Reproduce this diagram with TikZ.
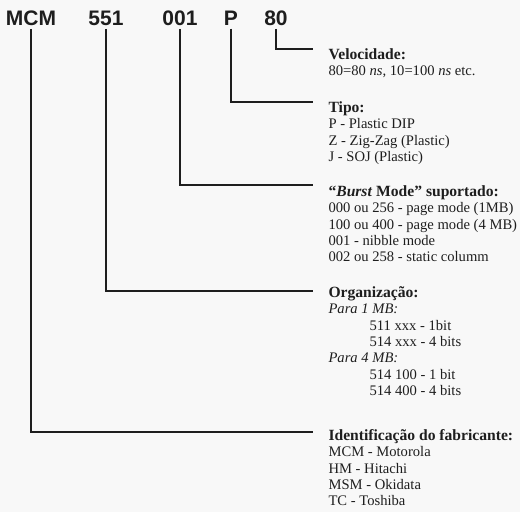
\documentclass[tikz,border=0pt]{standalone}
\usepackage{fontspec}
\setmainfont{Liberation Serif}
\newfontfamily\codefont{Liberation Sans}
\usetikzlibrary{positioning}
\definecolor{cBG}{HTML}{F8F8F8}
\definecolor{cINK}{HTML}{1E1E1E}
\newcommand{\headtxt}[1]{{\fontsize{15.6}{16.3}\selectfont\bfseries #1}}

\begin{document}
\begin{tikzpicture}[x=1pt, y=-1pt, line width=1.1pt, color=cINK,
  code/.style={anchor=base, inner sep=2.5pt, font=\codefont\bfseries\fontsize{21}{21}\selectfont},
  desc/.style={anchor=base west, inner sep=0pt, align=left, font=\fontsize{14.6}{16.3}\selectfont},
  lead/.style={line width=1.1pt}]
\fill[cBG] (0,0) rectangle (520,512);
\useasboundingbox (0,0) rectangle (520,512);
% the code letters
\node[code] (cMCM) at (31,25.5) {MCM};
\node[code] (c551) at (106,25.5) {551};
\node[code] (c001) at (180,25.5) {001};
\node[code] (cP) at (231,25.5) {P};
\node[code] (c80) at (276,25.5) {80};
% where the leads end
\coordinate (eVel) at (313,49);
\coordinate (eTipo) at (313,102);
\coordinate (eBurst) at (313,185);
\coordinate (eOrg) at (313,291);
\coordinate (eFab) at (313,432);
% the explanations (placed by the baseline of their last line)
\node[desc] (dVel) at (328,75.8) {\headtxt{Velocidade:}\\ 80=80 \textit{ns}, 10=100 \textit{ns} etc.};
\node[desc] (dTipo) at (328,161.4) {\headtxt{Tipo:}\\ P - Plastic DIP\\ Z - Zig-Zag (Plastic)\\ J - SOJ (Plastic)};
\node[desc] (dBurst) at (328,261.7) {\headtxt{``\textit{Burst} Mode'' suportado:}\\ 000 ou 256 - page mode (1MB)\\ 100 ou 400 - page mode (4 MB)\\ 001 - nibble mode\\ 002 ou 258 - static columm};
\node[desc] (dOrg) at (328,395.3) {\headtxt{Organização:}\\ \textit{Para 1 MB:}\\ \hspace*{41pt}511 xxx - 1bit\\ \hspace*{41pt}514 xxx - 4 bits\\ \textit{Para 4 MB:}\\ \hspace*{41pt}514 100 - 1 bit\\ \hspace*{41pt}514 400 - 4 bits};
\node[desc] (dFab) at (328,505.7) {\headtxt{Identificação do fabricante:}\\ MCM - Motorola\\ HM - Hitachi\\ MSM - Okidata\\ TC - Toshiba};
% leads
\draw[lead] (c80.south) |- (eVel);
\draw[lead] (cP.south) |- (eTipo);
\draw[lead] (c001.south) |- (eBurst);
\draw[lead] (c551.south) |- (eOrg);
\draw[lead] (cMCM.south) |- (eFab);
\end{tikzpicture}
\end{document}
